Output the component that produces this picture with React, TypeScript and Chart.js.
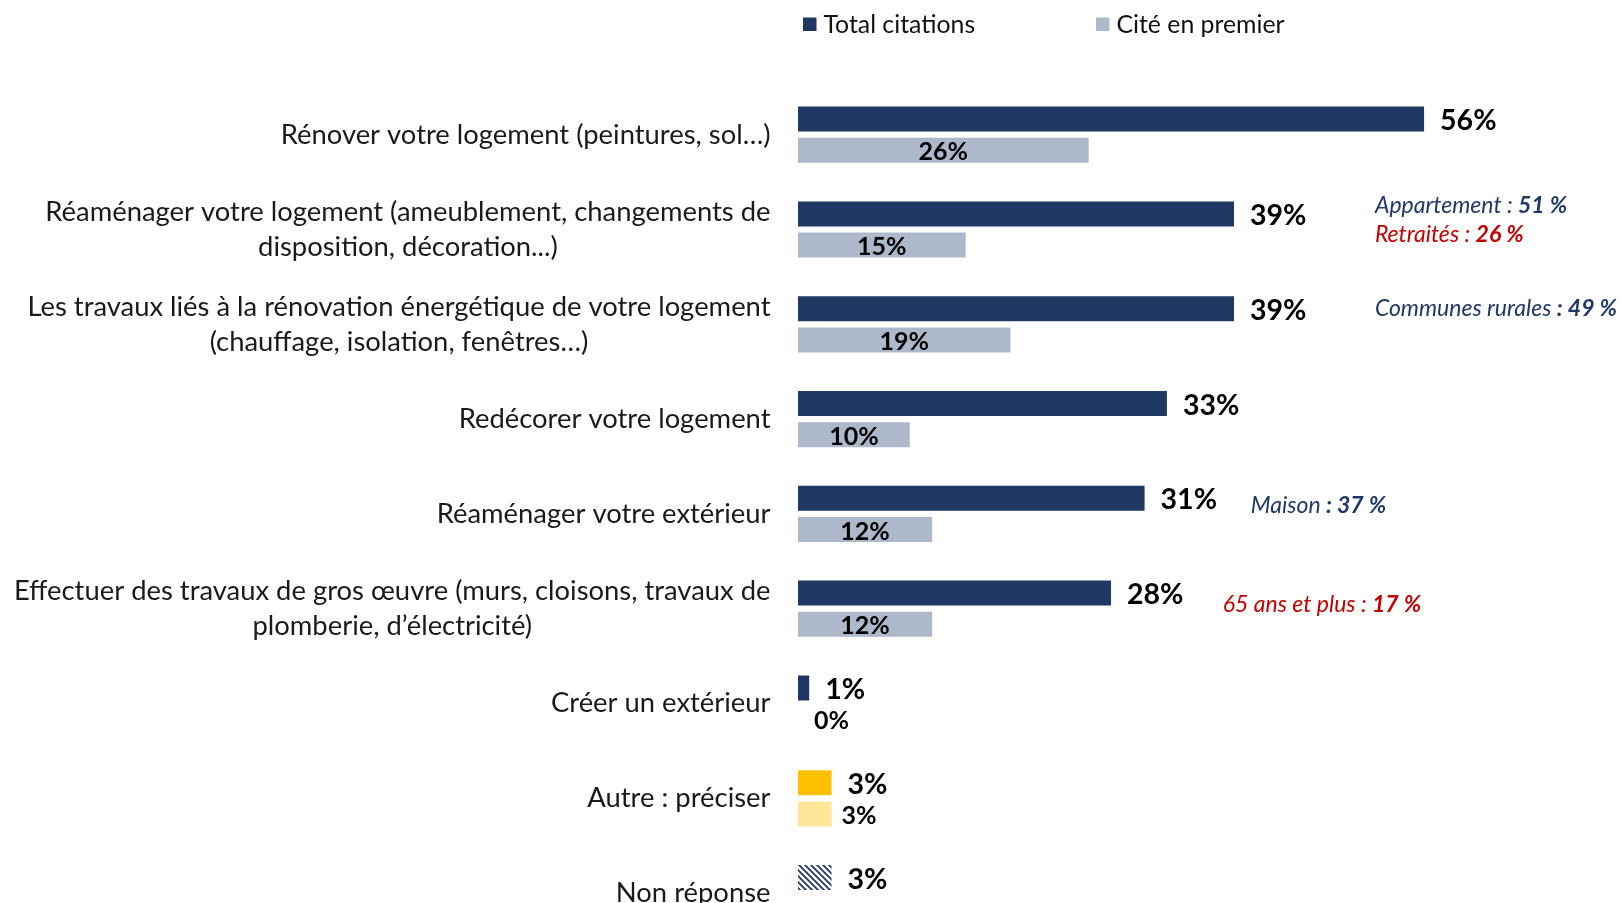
import React, { useEffect, useRef } from "react";
import { Chart, registerables } from "chart.js";
Chart.register(...registerables);

const categories: (string | string[])[] = [
  "Rénover votre logement (peintures, sol…)",
  ["Réaménager votre logement (ameublement, changements de", "disposition, décoration...)"],
  ["Les travaux liés à la rénovation énergétique de votre logement", "(chauffage, isolation, fenêtres…)"],
  "Redécorer votre logement",
  "Réaménager votre extérieur",
  ["Effectuer des travaux de gros œuvre (murs, cloisons, travaux de", "plomberie, d’électricité)"],
  "Créer un extérieur",
  "Autre : préciser",
  "Non réponse",
];
const totalCitations: number[] = [56, 39, 39, 33, 31, 28, 1, 3, 3];
const citeEnPremier: (number | null)[] = [26, 15, 19, 10, 12, 12, 0, 3, null];
const seriesNames = ["Total citations", "Cité en premier"];

const NAVY = "#203864";
const LIGHT = "#ADB9CA";
const GOLD = "#FFC000";
const GOLD_LIGHT = "#FFE699";
const RED = "#C00000";
const FONT = "Lato, 'Open Sans', sans-serif";
const LABEL_SIZE = 27.4;
const LABEL_LINE = 35.2;
const LABEL_GAP = 27.5;

type Part = [string, boolean];
const annotations: { index: number; x: number; dy: number; color: string; parts: Part[] }[] = [
  { index: 1, x: 51.6, dy: -24, color: NAVY, parts: [["Appartement : ", false], ["51 %", true]] },
  { index: 1, x: 51.6, dy: 5, color: RED, parts: [["Retraités : ", false], ["26 %", true]] },
  { index: 2, x: 51.6, dy: -16, color: NAVY, parts: [["Communes rurales ", false], [": 49 %", true]] },
  { index: 4, x: 40.5, dy: -8.5, color: NAVY, parts: [["Maison ", false], [": 37 %", true]] },
  { index: 5, x: 38, dy: -4.5, color: RED, parts: [["65 ans et plus : ", false], ["17 %", true]] },
];

function makeHatch(): CanvasPattern | string {
  const c = document.createElement("canvas");
  c.width = 6;
  c.height = 6;
  const g = c.getContext("2d");
  if (!g) return NAVY;
  g.fillStyle = "#fff";
  g.fillRect(0, 0, 6, 6);
  g.strokeStyle = NAVY;
  g.lineWidth = 1.8;
  g.beginPath();
  g.moveTo(-1, -1);
  g.lineTo(7, 7);
  g.moveTo(-1, 5);
  g.lineTo(1, 7);
  g.moveTo(5, -1);
  g.lineTo(7, 1);
  g.stroke();
  return g.createPattern(c, "repeat") || NAVY;
}

const overlayPlugin = {
  id: "overlay",
  afterDatasetsDraw(chart: any) {
    const ctx: CanvasRenderingContext2D = chart.ctx;
    const xs = chart.scales.x;
    const ys = chart.scales.y;
    ctx.save();
    ctx.textBaseline = "middle";
    // category labels: block right-aligned, lines centred within block
    ctx.font = `${LABEL_SIZE}px ${FONT}`;
    ctx.fillStyle = "#1a1a1a";
    ctx.textAlign = "center";
    const right = chart.chartArea.left - LABEL_GAP;
    categories.forEach((lab, i) => {
      const lines = Array.isArray(lab) ? lab : [lab];
      const w = Math.max(...lines.map((l) => ctx.measureText(l).width));
      const cx = right - w / 2;
      const cy = ys.getPixelForValue(i);
      lines.forEach((l, k) => {
        ctx.fillText(l, cx, cy + (k - (lines.length - 1) / 2) * LABEL_LINE);
      });
    });
    // value labels
    const m0 = chart.getDatasetMeta(0);
    m0.data.forEach((bar: any, i: number) => {
      const v = totalCitations[i];
      ctx.font = `bold 28.5px ${FONT}`;
      ctx.fillStyle = "#000";
      ctx.textAlign = "left";
      ctx.fillText(`${v}%`, bar.x + 16, bar.y + 2);
    });
    const m1 = chart.getDatasetMeta(1);
    m1.data.forEach((bar: any, i: number) => {
      const v = citeEnPremier[i];
      if (v === null || v === undefined) return;
      ctx.font = `bold 25px ${FONT}`;
      ctx.fillStyle = "#000";
      if (v >= 5) {
        ctx.textAlign = "center";
        ctx.fillText(`${v}%`, (bar.x + bar.base) / 2, bar.y + 2);
      } else {
        ctx.textAlign = "left";
        ctx.fillText(`${v}%`, bar.x + (v === 0 ? 16 : 10), bar.y + 2);
      }
    });
    // annotations
    annotations.forEach((a) => {
      let x = xs.getPixelForValue(a.x);
      const y = ys.getPixelForValue(a.index) + a.dy;
      ctx.textAlign = "left";
      ctx.fillStyle = a.color;
      a.parts.forEach(([t, b]) => {
        ctx.font = `italic ${b ? "bold " : ""}23px ${FONT}`;
        ctx.fillText(t, x, y);
        x += ctx.measureText(t).width;
      });
    });
    // legend
    const legend = [
      { x: 803, color: NAVY, text: seriesNames[0] },
      { x: 1096, color: LIGHT, text: seriesNames[1] },
    ];
    legend.forEach((l) => {
      ctx.fillStyle = l.color;
      ctx.fillRect(l.x, 17.5, 13.5, 13.5);
      ctx.fillStyle = "#111";
      ctx.font = `24.8px ${FONT}`;
      ctx.textAlign = "left";
      ctx.fillText(l.text, l.x + 20.5, 25.5);
    });
    ctx.restore();
  },
};

export default function App() {
  const ref = useRef<HTMLCanvasElement | null>(null);
  useEffect(() => {
    if (!ref.current) return;
    const hatch = makeHatch();
    const chart = new Chart(ref.current, {
      type: "bar",
      data: {
        labels: categories,
        datasets: [
          {
            label: seriesNames[0],
            data: totalCitations,
            backgroundColor: [NAVY, NAVY, NAVY, NAVY, NAVY, NAVY, NAVY, GOLD, hatch as any],
            barPercentage: 0.8,
            categoryPercentage: 0.659,
          },
          {
            label: seriesNames[1],
            data: citeEnPremier,
            backgroundColor: [LIGHT, LIGHT, LIGHT, LIGHT, LIGHT, LIGHT, LIGHT, GOLD_LIGHT, LIGHT],
            barPercentage: 0.8,
            categoryPercentage: 0.659,
          },
        ],
      },
      options: {
        indexAxis: "y",
        animation: false,
        responsive: false,
        devicePixelRatio: 1,
        layout: { padding: { top: 87.3, bottom: 42.5, left: 0, right: 43.4 } },
        plugins: { legend: { display: false }, tooltip: { enabled: false } },
        scales: {
          x: { display: false, min: 0, max: 70 },
          y: {
            afterFit: (s: any) => {
              s.width = 798;
            },
            grid: { display: false, drawTicks: false },
            border: { display: false },
            ticks: { display: false, autoSkip: false },
          },
        },
      },
      plugins: [overlayPlugin],
    });
    return () => chart.destroy();
  }, []);
  return (
    <div
      style={{
        position: "fixed",
        left: 0,
        top: 0,
        width: 1624,
        height: 903,
        overflow: "hidden",
        background: "#fff",
      }}
    >
      <canvas ref={ref} width={1624} height={983} style={{ display: "block" }} />
    </div>
  );
}
